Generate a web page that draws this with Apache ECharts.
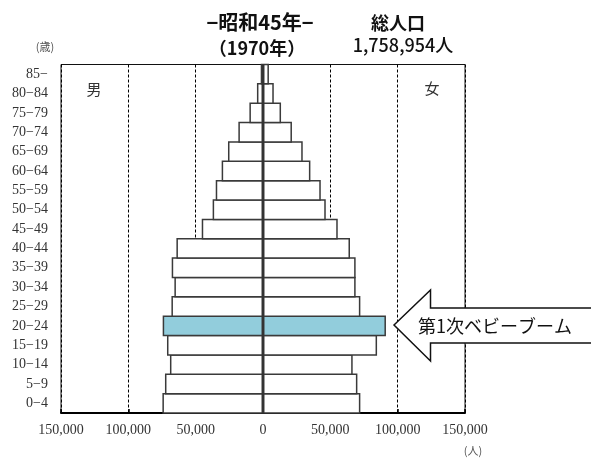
<!DOCTYPE html>
<html>
<head>
<meta charset="utf-8">
<script src="https://cdn.jsdelivr.net/npm/echarts@6/dist/echarts.min.js"></script>
<style>
  html, body { margin: 0; padding: 0; background: #fff; }
  #chart { width: 591px; height: 462px; }
</style>
</head>
<body>
<div id="chart"></div>
<script>
// Age groups, youngest at the bottom
const ageGroups = ['0−4', '5−9', '10−14', '15−19', '20−24', '25−29', '30−34', '35−39', '40−44',
  '45−49', '50−54', '55−59', '60−64', '65−69', '70−74', '75−79', '80−84', '85−'];
// Population by age group (persons)
const malePop = [74700, 72800, 69100, 71300, 74500, 68000, 65800, 67800, 64300,
  45500, 37400, 35100, 30700, 26000, 18300, 10100, 4500, 1700];
const femalePop = [72300, 70100, 66600, 84700, 91300, 72300, 68800, 68800, 64600,
  55500, 46600, 42900, 35200, 29500, 21500, 13400, 8000, 4400];
// Baby-boom cohort drawn in colour
const boomGroup = '20−24';
const xTicks = [-150000, -100000, -50000, 0, 50000, 100000, 150000];

const serif = "'Liberation Serif', 'Noto Sans CJK JP', serif";
const sans = "'Noto Sans CJK JP', 'Noto Sans', sans-serif";
const barBorder = '#3a3a3a';
const barBorderWidth = 1.5;
const boomFill = '#92cddc';

const plotHeight = 348.5;
// ECharts insets a bar's outline by its border width; widen the bar by the same
// amount so neighbouring age groups share one outline instead of two
const bandHeight = plotHeight / ageGroups.length;
const barThickness = bandHeight + barBorderWidth;

function barData(values, sign) {
  return values.map((v, i) => ({
    value: sign * v,
    itemStyle: ageGroups[i] === boomGroup ? { color: boomFill } : undefined
  }));
}

const chart = echarts.init(document.getElementById('chart'), null, { renderer: 'canvas' });

chart.setOption({
  animation: false,
  backgroundColor: '#fff',
  grid: {
    left: 61, top: 64.5, width: 404, height: plotHeight,
    show: true, borderColor: '#111', borderWidth: 1, backgroundColor: 'transparent'
  },
  xAxis: {
    type: 'value',
    min: xTicks[0],
    max: xTicks[xTicks.length - 1],
    interval: 50000,
    axisLine: { show: true, onZero: false, lineStyle: { color: '#000', width: 2 } },
    axisTick: { show: true, inside: true, length: 4, lineStyle: { color: '#000', width: 1.5 } },
    splitLine: { show: true, lineStyle: { color: '#000', width: 1, type: [3, 2] } },
    axisLabel: {
      margin: 10,
      fontFamily: serif, fontSize: 14, color: '#333',
      formatter: v => Math.abs(v).toLocaleString('en-US')
    }
  },
  yAxis: {
    type: 'category',
    data: ageGroups,
    axisLine: { show: false, onZero: false },
    axisTick: { show: false },
    splitLine: { show: false },
    axisLabel: { margin: 13, fontFamily: serif, fontSize: 14, color: '#333' }
  },
  series: [
    {
      name: '男',
      type: 'bar',
      data: barData(malePop, -1),
      barWidth: barThickness,
      barGap: '-100%',
      itemStyle: { color: '#fff', borderColor: barBorder, borderWidth: barBorderWidth },
      markLine: {
        silent: true, symbol: 'none', label: { show: false },
        lineStyle: { color: '#333', width: 2, type: 'solid' },
        data: [{ xAxis: 0 }]
      },
      z: 2
    },
    {
      name: '女',
      type: 'bar',
      data: barData(femalePop, 1),
      barWidth: barThickness,
      barGap: '-100%',
      itemStyle: { color: '#fff', borderColor: barBorder, borderWidth: barBorderWidth },
      z: 2
    }
  ],
  graphic: [
    { type: 'text', style: {
        text: '−昭和45年−', x: 260, y: 22, align: 'center', verticalAlign: 'middle',
        font: 'bold 20px ' + sans, fill: '#111' } },
    { type: 'text', style: {
        text: '（1970年）', x: 257, y: 48, align: 'center', verticalAlign: 'middle',
        font: 'bold 18px ' + sans, fill: '#111' } },
    { type: 'text', style: {
        text: '総人口', x: 398, y: 23, align: 'center', verticalAlign: 'middle',
        font: 'bold 18px ' + sans, fill: '#111' } },
    { type: 'text', style: {
        text: '1,758,954人', x: 403, y: 45, align: 'center', verticalAlign: 'middle',
        font: '500 18px ' + sans, fill: '#111' } },
    { type: 'text', style: {
        text: '(歳)', x: 45, y: 47, align: 'center', verticalAlign: 'middle',
        font: '11px ' + sans, fill: '#555' } },
    { type: 'text', style: {
        text: '(人)', x: 473, y: 451, align: 'center', verticalAlign: 'middle',
        font: '11px ' + sans, fill: '#555' } },
    { type: 'text', style: {
        text: '男', x: 94, y: 89, align: 'center', verticalAlign: 'middle',
        font: '15px ' + sans, fill: '#333' } },
    { type: 'text', style: {
        text: '女', x: 432, y: 88, align: 'center', verticalAlign: 'middle',
        font: '15px ' + sans, fill: '#333' } },
    // call-out arrow pointing at the baby-boom bar
    { type: 'polygon', shape: { points: [
        [394, 325], [430.5, 290], [430.5, 308], [600, 308],
        [600, 343], [430.5, 343], [430.5, 361]
      ] }, style: { fill: '#fff', stroke: '#111', lineWidth: 1.5 }, z: 10 },
    { type: 'text', z: 11, style: {
        text: '第1次ベビーブーム', x: 418, y: 326, align: 'left', verticalAlign: 'middle',
        font: '18px ' + sans, fill: '#111' } }
  ]
});
</script>
</body>
</html>
